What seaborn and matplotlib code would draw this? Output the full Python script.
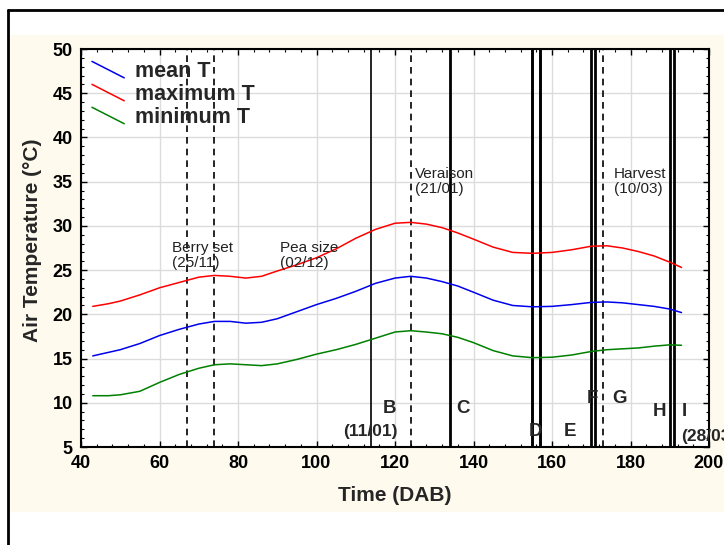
import numpy as np
import pandas as pd
import matplotlib
matplotlib.use("Agg")
import matplotlib.pyplot as plt
import seaborn as sns
from matplotlib.lines import Line2D
from matplotlib.patches import Rectangle
from matplotlib.legend_handler import HandlerLine2D

# ---------------- data ----------------
days = [43, 47, 50, 55, 60, 65, 70, 74, 78, 82, 86, 90, 95, 100, 105, 110, 115,
        120, 124, 128, 132, 136, 140, 145, 150, 155, 160, 165, 170, 174, 178,
        182, 186, 190, 193]
mean_t = [15.3, 15.7, 16.0, 16.7, 17.6, 18.3, 18.9, 19.2, 19.2, 19.0, 19.1, 19.5,
          20.3, 21.1, 21.8, 22.6, 23.5, 24.1, 24.3, 24.1, 23.7, 23.2, 22.5, 21.6,
          21.0, 20.85, 20.9, 21.1, 21.35, 21.4, 21.3, 21.1, 20.9, 20.6, 20.2]
max_t = [20.9, 21.2, 21.5, 22.2, 23.0, 23.6, 24.2, 24.4, 24.3, 24.1, 24.3, 24.9,
         25.6, 26.4, 27.4, 28.6, 29.6, 30.3, 30.4, 30.2, 29.8, 29.2, 28.5, 27.6,
         27.0, 26.9, 27.0, 27.3, 27.7, 27.75, 27.5, 27.1, 26.6, 25.9, 25.3]
min_t = [10.8, 10.8, 10.9, 11.3, 12.3, 13.2, 13.9, 14.3, 14.4, 14.3, 14.2, 14.4,
         14.9, 15.5, 16.0, 16.6, 17.3, 18.0, 18.15, 18.0, 17.8, 17.4, 16.8, 15.9,
         15.3, 15.1, 15.15, 15.4, 15.8, 16.0, 16.1, 16.2, 16.4, 16.55, 16.5]
series_names = ["mean T", "maximum T", "minimum T"]
series_colors = ["#0000ee", "#ff0000", "#008000"]

phase_days = [67, 74, 124, 173]                       # dashed lines
phase_labels = ["Berry set\n(25/11)", "Pea size\n(02/12)",
                "Veraison\n(21/01)", "Harvest\n(10/03)"]
phase_label_x = [63.2, 90.7, 125.1, 175.8]
phase_label_y = [26.65, 26.65, 35.0, 35.0]

event_days = [114, 134, 155, 157, 170, 171, 190, 191]   # solid lines
event_widths = [1.2, 2.0, 2.1, 2.1, 2.0, 2.0, 2.0, 2.0]
letters = ["B", "C", "D", "E", "F", "G", "H", "I"]
letter_x = [118.7, 137.3, 155.7, 164.6, 170.2, 177.3, 187.3, 193.6]
letter_y = [9.4, 9.4, 6.7, 6.7, 10.5, 10.5, 9.0, 9.0]
date_labels = ["(11/01)", "(28/03)"]
date_x = [113.6, 192.9]
date_y = [6.7, 6.2]

# ---------------- style ----------------
sns.set_style("white")
plt.rcParams["font.family"] = ["Liberation Sans", "DejaVu Sans"]

W, H = 724, 545
fig = plt.figure(figsize=(W / 100, H / 100), dpi=100)
fig.patch.set_facecolor("white")

def fx(px):
    return px / W

def fy(py):
    return 1 - py / H

# background layer axes (cream panel + frame lines)
bg = fig.add_axes([0, 0, 1, 1], zorder=-10)
bg.set_xlim(0, W)
bg.set_ylim(H, 0)
bg.axis("off")
bg.add_patch(Rectangle((10, 35), W - 10, 512 - 35, facecolor="#fefaee",
                       edgecolor="none"))
bg.add_line(Line2D([8, W], [10, 10], color="black", lw=2))
bg.add_line(Line2D([8, 8], [10, H], color="black", lw=2))

ax = fig.add_axes([fx(81), fy(447), fx(709) - fx(81), fy(49) - fy(447)], zorder=1)
ax.set_facecolor("white")

df = pd.DataFrame({
    "day": days * 3,
    "temp": mean_t + max_t + min_t,
    "series": sum([[n] * len(days) for n in series_names], []),
})
sns.lineplot(data=df, x="day", y="temp", hue="series", hue_order=series_names,
             palette=series_colors, ax=ax, legend=False, lw=1.1, zorder=4)

for d in phase_days:
    ax.axvline(d, color="black", lw=1.2, ls=(0, (4, 3)), zorder=3)
for d, w in zip(event_days, event_widths):
    ax.axvline(d, color="black", lw=w, zorder=3)

for t, x, y in zip(phase_labels, phase_label_x, phase_label_y):
    ax.text(x, y, t, fontsize=11, color="#222222", ha="left", va="center",
            linespacing=1.15, zorder=5)
for t, x, y in zip(letters, letter_x, letter_y):
    ax.text(x, y, t, fontsize=13.5, fontweight="bold", ha="center", va="center", zorder=5)
for t, x, y in zip(date_labels, date_x, date_y):
    ax.text(x, y, t, fontsize=12.5, fontweight="bold",
            ha="center" if x < 150 else "left", va="center", zorder=5, clip_on=False)

ax.set_xlim(40, 200)
ax.set_ylim(5, 50)
ax.set_xticks(np.arange(40, 201, 20))
ax.set_yticks(np.arange(5, 51, 5))
ax.set_xticks(np.arange(40, 201, 4), minor=True)
ax.set_yticks(np.arange(5, 51, 1), minor=True)
ax.grid(True, which="major", color="#dcdcdc", lw=1.0)
ax.set_axisbelow(True)
ax.tick_params(which="both", direction="in", top=True, right=True,
               bottom=True, left=True, colors="black")
ax.tick_params(which="major", length=4, width=1, labelsize=13, pad=6)
ax.tick_params(which="minor", length=2.5, width=0.8)
for lab in ax.get_xticklabels() + ax.get_yticklabels():
    lab.set_fontweight("bold")
for s in ax.spines.values():
    s.set_color("black")
    s.set_linewidth(1.5)

ax.set_xlabel("Time (DAB)", fontsize=15, fontweight="bold", labelpad=10)
ax.set_ylabel("Air Temperature (°C)", fontsize=15, fontweight="bold")
ax.yaxis.set_label_coords(-0.062, 0.52)


class DiagHandler(HandlerLine2D):
    def create_artists(self, legend, orig_handle, xdescent, ydescent, width,
                       height, fontsize, trans):
        ln = Line2D([-xdescent, -xdescent + width],
                    [-ydescent + height, -ydescent],
                    color=orig_handle.get_color(), lw=1.1)
        ln.set_transform(trans)
        return [ln]


handles = [Line2D([], [], color=c) for c in series_colors]
leg = ax.legend(handles, series_names, loc="upper left",
                bbox_to_anchor=(0.014, 0.975), frameon=False,
                prop={"size": 15.5, "weight": "bold"}, handlelength=1.5,
                handleheight=0.8, handletextpad=0.5, labelspacing=0.09,
                borderpad=0.1, borderaxespad=0,
                handler_map={Line2D: DiagHandler()})

fig.savefig("out.png", dpi=100, facecolor="white")
